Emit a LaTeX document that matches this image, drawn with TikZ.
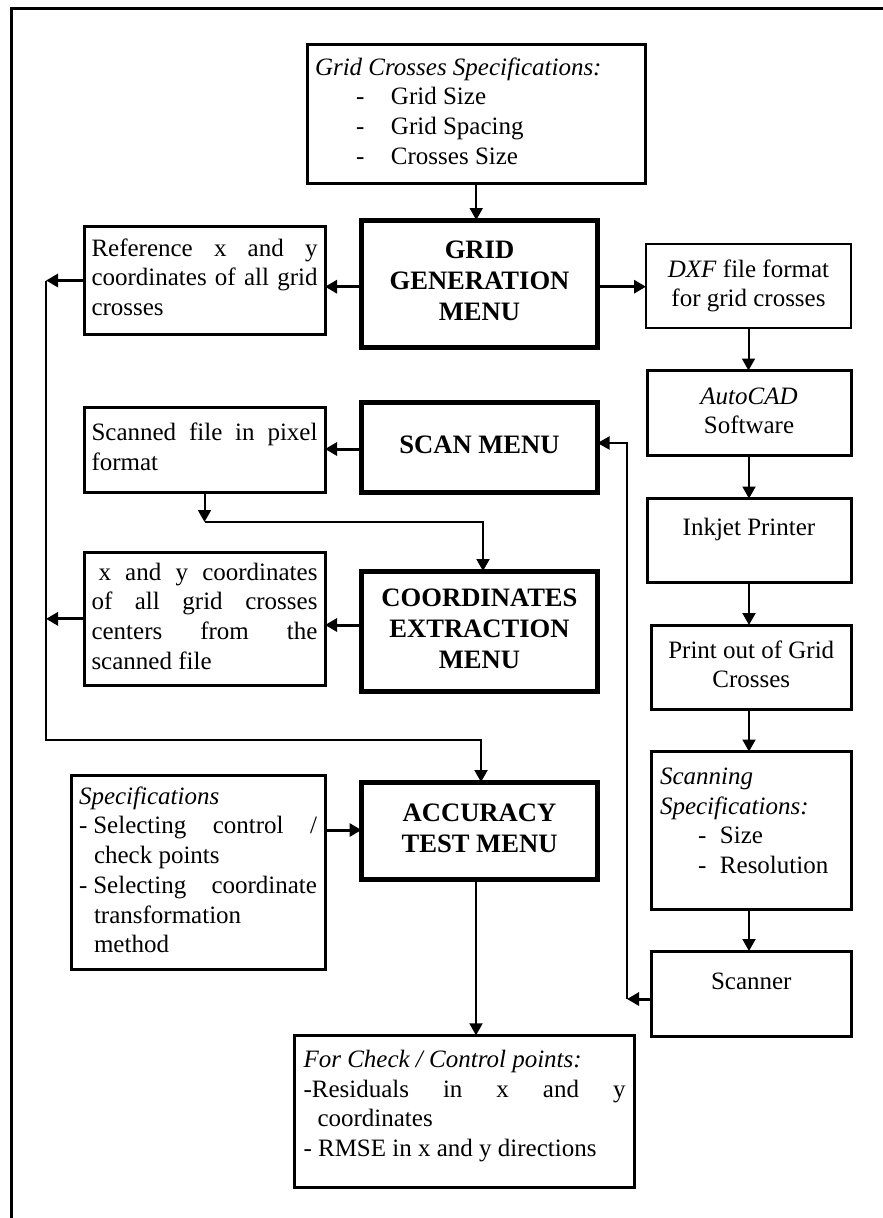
\documentclass[tikz,border=0pt]{standalone}
\usepackage{fontspec}
\setmainfont{Liberation Serif}
\usetikzlibrary{arrows.meta}
\newcommand\fsr{\fontsize{25}{29.7}\selectfont}
\newcommand\fsb{\fontsize{26.6}{31.2}\selectfont\bfseries}
\newcommand\jl[1]{\makebox[\linewidth][s]{#1}}
% \pb{width}{height}{inner pos}{top skip}{content}
\newcommand\pb[5]{\parbox[c][#2][#3]{#1}{\fsr\vspace*{#4}#5}}
\tikzset{
  box/.style={draw, line width=3pt, inner ysep=0pt, outer sep=0pt},
  menubox/.style={box, line width=5pt, inner xsep=5pt},
  thinbox/.style={box, line width=2pt},
  arr/.style={line width=2pt, -{Triangle[length=12pt,width=13pt]}},
  arrw/.style={line width=3pt, -{Triangle[length=12pt,width=13pt]}},
  frame/.style={line width=3pt}
}
\begin{document}
\begin{tikzpicture}[x=1pt,y=-1pt]
\useasboundingbox (0,0) rectangle (883,1218);
\draw[frame] (11,1218) -- (11,8.5) -- (883,8.5);

% boxes
\node[box, inner xsep=7.5pt] (spec) at (476.25,113.75)
  {\pb{322.5pt}{138.5pt}{c}{0pt}{\strut\textit{Grid Crosses Specifications:}\\
   \strut\hspace*{41pt}\makebox[35pt][l]{-}Grid Size\\
   \strut\hspace*{41pt}\makebox[35pt][l]{-}Grid Spacing\\
   \strut\hspace*{41pt}\makebox[35pt][l]{-}Crosses Size}};

\node[menubox] (grid) at (479.5,283.5)
  {\pb{226pt}{127pt}{c}{0pt}{\centering\fsb\strut GRID\\\strut GENERATION\\\strut MENU}};

\node[box, inner xsep=7.5pt] (ref) at (204.5,280)
  {\pb{226pt}{108pt}{c}{0pt}{\strut\jl{Reference x and y}\\\strut\jl{coordinates of all grid}\\\strut crosses}};

\node[thinbox, inner xsep=5pt] (dxf) at (748.5,286)
  {\pb{195pt}{84pt}{c}{0pt}{\centering\strut\textit{DXF} file format\\\strut for grid crosses}};

\node[box, inner xsep=5pt] (autocad) at (749,413)
  {\pb{194pt}{85pt}{c}{0pt}{\centering\strut\textit{AutoCAD}\\\strut Software}};

\node[box, inner xsep=5pt] (inkjet) at (749,540.25)
  {\pb{194pt}{83.5pt}{t}{16.2pt}{\centering\strut Inkjet Printer}};

\node[box, inner xsep=5pt] (printout) at (751.25,667)
  {\pb{189.5pt}{84pt}{c}{0pt}{\centering\strut Print out of Grid\\\strut Crosses}};

\node[box, inner xsep=8.5pt] (scanning) at (751.25,830.25)
  {\pb{182.5pt}{157.5pt}{t}{12.2pt}{\strut\textit{Scanning}\\
   \strut\textit{Specifications:}\\
   \strut\hspace*{38pt}\makebox[22pt][l]{-}Size\\
   \strut\hspace*{38pt}\makebox[22pt][l]{-}Resolution}};

\node[box, inner xsep=5pt] (scanner) at (751.25,993.75)
  {\pb{189.5pt}{85.5pt}{t}{17.7pt}{\centering\strut Scanner}};

\node[menubox] (scan) at (479.5,447)
  {\pb{226pt}{90pt}{c}{0pt}{\centering\fsb\strut SCAN MENU}};

\node[box, inner xsep=7.5pt] (scanned) at (204.5,449.5)
  {\pb{226pt}{85pt}{c}{0pt}{\strut\jl{Scanned file in pixel}\\\strut format}};

\node[menubox] (coord) at (479.5,631.25)
  {\pb{226pt}{120.5pt}{c}{0pt}{\centering\fsb\strut COORDINATES\\\strut EXTRACTION\\\strut MENU}};

\node[box, inner xsep=7.5pt] (xy) at (204.5,618.85)
  {\pb{226pt}{133.7pt}{c}{0pt}{\strut\jl{\hspace*{7pt}x and y coordinates}\\
   \strut\jl{of all grid crosses}\\
   \strut\jl{centers from the}\\
   \strut scanned file}};

\node[menubox] (accuracy) at (479.5,830.5)
  {\pb{226pt}{97pt}{c}{0pt}{\centering\fsb\strut ACCURACY\\\strut TEST MENU}};

\node[box, inner xsep=8pt] (specs) at (198,872.5)
  {\pb{238pt}{194.4pt}{c}{0pt}{\strut\textit{Specifications}\\
   \strut\jl{-\hspace*{6pt}Selecting control /}\\
   \strut\hspace*{15pt}check points\\
   \strut\jl{-\hspace*{6pt}Selecting coordinate}\\
   \strut\hspace*{15pt}transformation\\
   \strut\hspace*{15pt}method}};

\node[box, inner xsep=9pt] (forcheck) at (464.5,1111.3)
  {\pb{322pt}{152pt}{t}{11.4pt}{\strut\textit{For Check / Control points:}\\
   \strut\jl{-Residuals in x and y}\\
   \strut\hspace*{14pt}coordinates\\
   \strut- RMSE in x and y directions}};

% helper coordinates
\coordinate (L1) at (46,280.5);
\coordinate (L2) at (46,740);
\coordinate (L3) at (481,740);
\coordinate (J1) at (204.5,522);
\coordinate (J2) at (483,522);
\coordinate (R1) at (627,999);
\coordinate (R2) at (627,443);

% connectors
\draw[arr] (spec.south) -- (spec.south |- grid.north);
\draw[arrw] (grid.west |- 0,286.7) -- (ref.east |- 0,286.7);
\draw[arrw] (grid.east |- 0,286.7) -- (dxf.west |- 0,286.7);
\draw[arr] (dxf.south) -- (dxf.south |- autocad.north);
\draw[arr] (autocad.south) -- (autocad.south |- inkjet.north);
\draw[arr] (autocad.south |- inkjet.south) -- (autocad.south |- printout.north);
\draw[arr] (autocad.south |- printout.south) -- (autocad.south |- scanning.north);
\draw[arr] (autocad.south |- scanning.south) -- (autocad.south |- scanner.north);
\draw[arrw] (scanner.west |- R1) -- (R1);
\draw[arr] (R1) -- (R2) -- (scan.east |- R2);
\draw[arrw] (scan.west |- 0,449) -- (scanned.east |- 0,449);
\draw[arr] (scanned.south) -- (J1);
\draw[arr] (J1) -- (J2) -- (J2 |- coord.north);
\draw[arrw] (coord.west |- 0,625) -- (xy.east |- 0,625);
\draw[arrw] (ref.west |- L1) -- (L1);
\draw[arrw] (xy.west) -- (xy.west -| L1);
\draw[arr] (L1) -- (L2) -- (L3) -- (L3 |- accuracy.north);
\draw[arrw] (specs.east |- 0,830) -- (accuracy.west |- 0,830);
\draw[arr] (accuracy.south -| 476,0) -- (forcheck.north -| 476,0);
\end{tikzpicture}
\end{document}
